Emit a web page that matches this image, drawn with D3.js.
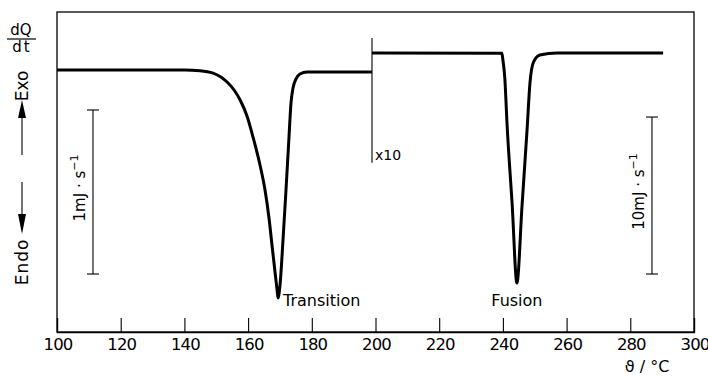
<!DOCTYPE html>
<html>
<head>
<meta charset="utf-8">
<script src="https://cdn.jsdelivr.net/npm/d3@7"></script>
<style>
  html, body { margin: 0; padding: 0; background: #fff; }
  svg { display: block; }
  text { font-family: "DejaVu Sans", sans-serif; fill: #000; }
</style>
</head>
<body>
<svg id="chart" width="708" height="380"></svg>
<script>
// ---- data (temperature in °C, heat flow in display units: 1 unit = 1 mJ/s left, 10 mJ/s right) ----
const xTicks = [100, 120, 140, 160, 180, 200, 220, 240, 260, 280, 300];
const transitionT = [100, 140, 144.9, 149.0, 153.4, 155.6, 157.5, 159.65, 161.54, 163.74, 165.31, 166.56, 167.5, 168.45, 169.07, 169.39, 170.02, 170.96, 171.9, 172.84, 173.47, 174.1, 175.04, 176.29, 178.49, 198.9];
const transitionQ = [0, 0, -0.004, -0.019, -0.075, -0.125, -0.1875, -0.2875, -0.419, -0.594, -0.75, -0.925, -1.094, -1.2625, -1.369, -1.425, -1.344, -1.0625, -0.75, -0.419, -0.206, -0.1125, -0.056, -0.025, -0.0125, -0.0125];
const fusionT = [198.9, 239.7, 240.0, 240.6, 241.3, 242.9, 244.4, 246.0, 247.6, 248.5, 249.5, 251.6, 257.0, 290.3];
const fusionQ = [0.106, 0.104, 0.0625, -0.05, -0.3375, -0.8375, -1.331, -0.85, -0.369, -0.081, 0.044, 0.094, 0.106, 0.106];
const scaleBarLeft = { T: 111.3, q0: -0.25, q1: -1.275, label: "1mJ · s" };
const scaleBarRight = { T: 286.8, q0: -0.294, q1: -1.275, label: "10mJ · s" };
const rangeMarker = { T: 198.9, q0: 0.2, q1: -0.58, label: "x10" };
const peakLabels = [{ text: "Transition", T: 169.7, q: -1.475, anchor: "start" }, { text: "Fusion", T: 244.4, q: -1.475, anchor: "middle" }];

// ---- layout ----
const svg = d3.select("#chart");
const margin = { left: 57, top: 12, right: 14, bottom: 48 };
const W = 708 - margin.left - margin.right;
const H = 380 - margin.top - margin.bottom;
const g = svg.append("g").attr("transform", `translate(${margin.left},${margin.top})`);

const x = d3.scaleLinear().domain([100, 300]).range([0, W]);
const y = d3.scaleLinear().domain([-1.6375, 0.3625]).range([H, 0]);

// frame
g.append("rect").attr("x", 0).attr("y", 0).attr("width", W).attr("height", H)
  .attr("fill", "none").attr("stroke", "#000").attr("stroke-width", 1.3);

// x axis with inward ticks
const xAxis = d3.axisBottom(x).tickValues(xTicks).tickSize(-14).tickPadding(18).tickFormat(d3.format("d"));
const ax = g.append("g").attr("transform", `translate(0,${H})`).call(xAxis);
ax.select(".domain").attr("stroke-width", 1.3);
ax.selectAll(".tick line").attr("stroke-width", 1.1);
ax.selectAll(".tick text").attr("font-size", 16.5)
  .attr("font-family", "'Liberation Sans', Arial, sans-serif")
  .attr("letter-spacing", -0.9)
  .attr("dy", 0).attr("y", 18).attr("dx", 0.5);

// curves
const line = d3.line().x(d => x(d[0])).y(d => y(d[1])).curve(d3.curveMonotoneX);
g.append("path").datum(d3.zip(transitionT, transitionQ)).attr("d", line)
  .attr("fill", "none").attr("stroke", "#000").attr("stroke-width", 3).attr("stroke-linejoin", "round");
g.append("path").datum(d3.zip(fusionT, fusionQ)).attr("d", line)
  .attr("fill", "none").attr("stroke", "#000").attr("stroke-width", 3).attr("stroke-linejoin", "round");

// range change marker
g.append("line").attr("x1", x(rangeMarker.T)).attr("x2", x(rangeMarker.T))
  .attr("y1", y(rangeMarker.q0)).attr("y2", y(rangeMarker.q1)).attr("stroke", "#000").attr("stroke-width", 1.1);
g.append("text").attr("x", x(rangeMarker.T) + 3).attr("y", y(rangeMarker.q1) - 3)
  .attr("font-size", 14).text(rangeMarker.label);

// scale bars
function scaleBar(sb, labelDx) {
  const cx = x(sb.T), ya = y(sb.q0), yb = y(sb.q1);
  g.append("line").attr("x1", cx).attr("x2", cx).attr("y1", ya).attr("y2", yb).attr("stroke", "#000").attr("stroke-width", 1.1);
  [ya, yb].forEach(v => g.append("line").attr("x1", cx - 6).attr("x2", cx + 6).attr("y1", v).attr("y2", v).attr("stroke", "#000").attr("stroke-width", 1.1));
  const t = g.append("text").attr("transform", `translate(${cx + labelDx},${(ya + yb) / 2 - 4}) rotate(-90)`)
    .attr("text-anchor", "middle").attr("font-size", 15);
  t.append("tspan").text(sb.label);
  t.append("tspan").attr("dy", -7).attr("font-size", 11).text("−1");
}
scaleBar(scaleBarLeft, -8);
scaleBar(scaleBarRight, -8);

// peak labels
peakLabels.forEach(p => {
  g.append("text").attr("x", x(p.T) + (p.anchor === "start" ? 4 : 0)).attr("y", y(p.q))
    .attr("text-anchor", p.anchor).attr("font-size", 16).text(p.text);
});

// axis title
svg.append("text").attr("x", 647).attr("y", 372).attr("text-anchor", "middle").attr("font-size", 16).text("ϑ / °C");

// y annotation: dQ/dt and Exo / Endo arrows
svg.append("text").attr("x", 21).attr("y", 35).attr("text-anchor", "middle").attr("font-size", 15).text("dQ");
svg.append("line").attr("x1", 7).attr("x2", 36).attr("y1", 39).attr("y2", 39).attr("stroke", "#000").attr("stroke-width", 1.2);
svg.append("text").attr("x", 22).attr("y", 52).attr("text-anchor", "middle").attr("font-size", 15).attr("letter-spacing", 2).text("dt");

svg.append("text").attr("transform", "translate(28,86) rotate(-90)").attr("text-anchor", "middle").attr("font-size", 17).text("Exo");
svg.append("path").attr("d", "M22,100 L18,118 L26,118 Z").attr("fill", "#000");
svg.append("line").attr("x1", 22).attr("x2", 22).attr("y1", 117).attr("y2", 155).attr("stroke", "#000").attr("stroke-width", 1.1);
svg.append("line").attr("x1", 22).attr("x2", 22).attr("y1", 182).attr("y2", 215).attr("stroke", "#000").attr("stroke-width", 1.1);
svg.append("path").attr("d", "M22,234 L18,214 L26,214 Z").attr("fill", "#000");
svg.append("text").attr("transform", "translate(28,262) rotate(-90)").attr("text-anchor", "middle").attr("font-size", 17).attr("letter-spacing", 1).text("Endo");
</script>
</body>
</html>
